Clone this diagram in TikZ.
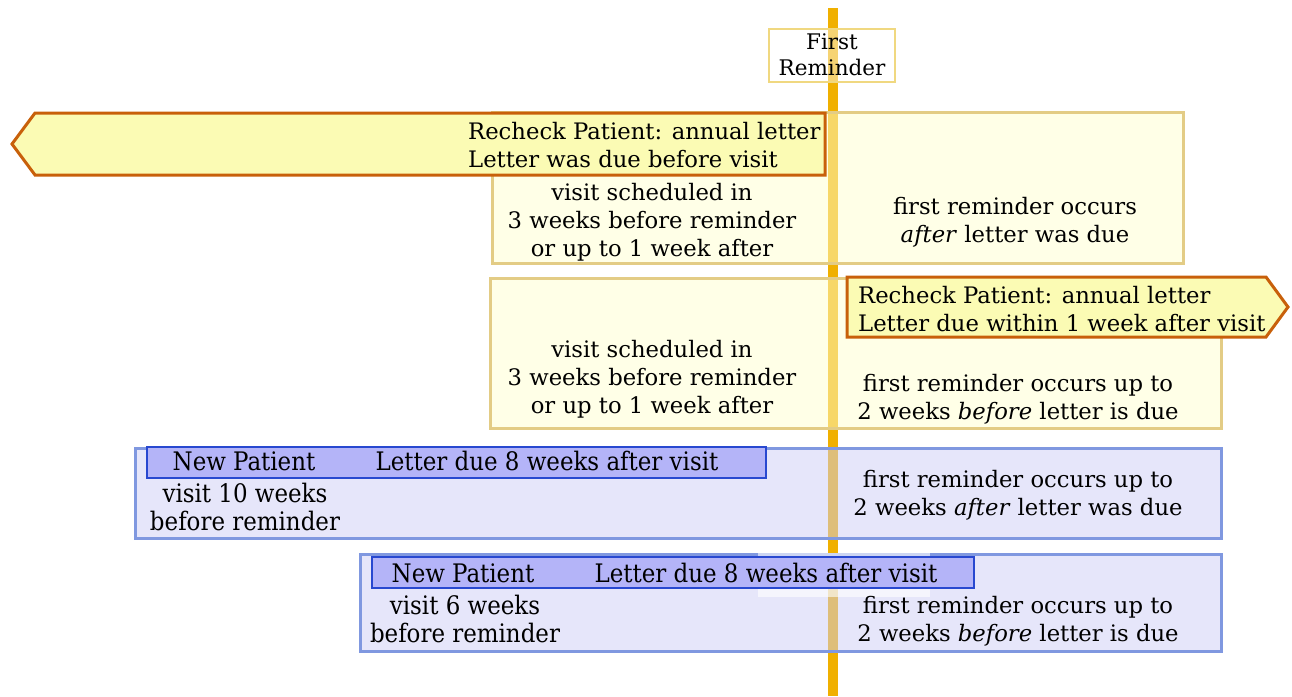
\documentclass[tikz,border=0pt]{standalone}
\usepackage{fontspec}
\setmainfont{DejaVu Serif}
\newfontfamily\condfont{DejaVu Serif Condensed}
\definecolor{lineor}{HTML}{F0B000}
\definecolor{arrfill}{HTML}{FBFBB4}
\definecolor{arrdraw}{HTML}{C8600A}
\definecolor{yfill}{HTML}{FFFFD0}
\definecolor{ydraw}{HTML}{E3CC85}
\definecolor{bfill}{HTML}{CDCDF5}
\definecolor{bdraw}{HTML}{8098E0}
\definecolor{ifill}{HTML}{B4B4F8}
\definecolor{idraw}{HTML}{2848D0}
\definecolor{frdraw}{HTML}{F0D880}
\tikzset{
  txt/.style={font=\fontsize{22.7}{28}\selectfont, inner sep=0pt, align=center},
  ntxt/.style={font=\condfont\fontsize{25.5}{28}\selectfont, inner sep=0pt, align=center},
  ybox/.style={draw=ydraw, line width=3pt, fill=yfill, fill opacity=0.5, draw opacity=1, anchor=north west, inner sep=0pt},
  bbox/.style={draw=bdraw, line width=2.6pt, fill=bfill, fill opacity=0.5, anchor=north west, inner sep=0pt},
  ibox/.style={draw=idraw, line width=1.5pt, fill=ifill, anchor=north west, inner sep=0pt},
  arr/.style={draw=arrdraw, line width=3pt, fill=arrfill, line join=miter},
}
\begin{document}
\begin{tikzpicture}[x=1pt,y=-1pt]
\useasboundingbox (0,0) rectangle (1292,696);
% reminder line
\coordinate (ltop) at (833,8);
\coordinate (lbot) at (833,696);
\draw[lineor, line width=10pt] (ltop) -- (lbot);
% first reminder label
\node[draw=frdraw, line width=2pt, fill=white, fill opacity=0.45, text opacity=1, minimum width=126pt, minimum height=53pt, inner sep=0pt] (fr) at (832,55) {};
\node[txt, font=\fontsize{21.5}{26}\selectfont] (frt) at (fr.center) {First\\Reminder};
% yellow box 1
\node[ybox, minimum width=691pt, minimum height=151pt] (y1) at (491,111) {};
\node[txt] (y1l) at (652,222) {visit scheduled in\\3 weeks before reminder\\or up to 1 week after};
\node[txt] (y1r) at (1015,222) {first reminder occurs\\\textit{after} letter was due};
% left arrow
\path[arr] (35,113) -- (825,113) -- (825,175) -- (35,175) -- (12,144) -- cycle;
\node[txt, align=left, anchor=west] (a1) at (468,145) {Recheck Patient: annual letter\\Letter was due before visit};
% yellow box 2
\node[ybox, minimum width=731pt, minimum height=150pt] (y2) at (489,277) {};
\node[txt] (y2l) at (652,379) {visit scheduled in\\3 weeks before reminder\\or up to 1 week after};
\node[txt] (y2r) at (1018,399) {first reminder occurs up to\\2 weeks \textit{before} letter is due};
% right arrow
\path[arr] (847,277) -- (1266,277) -- (1288,307) -- (1266,337) -- (847,337) -- cycle;
\node[txt, align=left, anchor=west] (a2) at (858,309) {Recheck Patient: annual letter\\Letter due within 1 week after visit};
% blue box 1
\node[bbox, minimum width=1086pt, minimum height=90pt] (b1) at (134,447) {};
\node[ibox, minimum width=619pt, minimum height=31pt] (i1) at (146,446) {};
\node[ntxt] (i1a) at (244,461) {New Patient};
\node[ntxt] (i1b) at (547,461) {Letter due 8 weeks after visit};
\node[ntxt] (b1l) at (245,507) {visit 10 weeks\\before reminder};
\node[txt] (b1r) at (1018,495) {first reminder occurs up to\\2 weeks \textit{after} letter was due};
% blue box 2
\node[bbox, minimum width=861pt, minimum height=97pt] (b2) at (359,553) {};
\node[fill=white, fill opacity=0.6, minimum width=172pt, minimum height=44pt, anchor=north west, inner sep=0pt] (wl) at (758,553) {};
\node[ibox, minimum width=602pt, minimum height=31pt] (i2) at (371,556) {};
\node[ntxt] (i2a) at (463,573) {New Patient};
\node[ntxt] (i2b) at (766,573) {Letter due 8 weeks after visit};
\node[ntxt] (b2l) at (465,619) {visit 6 weeks\\before reminder};
\node[txt] (b2r) at (1018,621) {first reminder occurs up to\\2 weeks \textit{before} letter is due};
\end{tikzpicture}
\end{document}
